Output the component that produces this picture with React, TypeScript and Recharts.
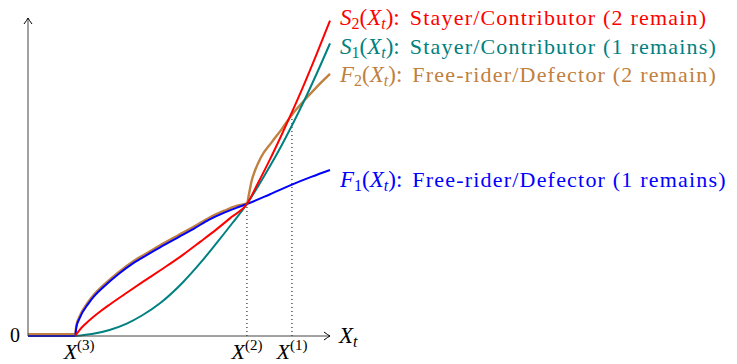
import React from "react";
import { LineChart, Line, XAxis, YAxis, ReferenceLine, ReferenceDot } from "recharts";

// threshold ticks on the X_t axis
const TICK_X = [15.6, 72.5, 87.4];
const TICK_SUP = ["(3)", "(2)", "(1)"];

// F1: free-rider, 1 remains
const F1_X = [0, 15.6, 16, 17, 20, 22, 25, 30, 35, 40, 45, 50, 55, 60, 65, 69, 72.5, 80, 87.4, 94, 100];
const F1_Y = [0, 0, 2.7, 5.4, 10.2, 12.6, 15.4, 19.5, 23.0, 25.8, 28.6, 31.2, 33.8, 36.6, 38.8, 40.3, 41.5, 44.5, 47.6, 50.1, 52.2];

// F2: free-rider, 2 remain
const F2_X = [0, 15.6, 16, 17, 20, 22, 25, 30, 35, 40, 45, 50, 55, 60, 65, 69, 72.5, 73.2, 74, 75, 77.2, 80.6, 83.9, 87.4, 91, 95.5, 100];
const F2_Y = [0.6, 0.6, 3.3, 6.0, 10.8, 13.2, 16.0, 20.1, 23.6, 26.4, 29.2, 31.8, 34.4, 37.2, 39.4, 40.9, 41.7, 44.8, 48.6, 51.6, 56.3, 60.8, 64.9, 69.6, 73.6, 78.2, 82.4];

// S1: stayer, 1 remains
const S1_X = [15.6, 21.6, 27, 32.7, 38, 43.7, 51.4, 57, 62.5, 67.5, 72.5, 76, 80, 84, 87.4, 91, 95.5, 100];
const S1_Y = [0, 0.7, 1.9, 3.9, 6.6, 10.3, 17.0, 22.9, 29.3, 35.3, 41.5, 46.8, 53.2, 60.0, 66.2, 73.1, 82.3, 92.0];

// S2: stayer, 2 remain
const S2_X = [15.6, 17, 19, 21.6, 24, 27.2, 32.7, 38, 43.7, 51.4, 57, 62.5, 67.5, 72.5, 76, 80, 84, 87.4, 91, 95.5, 100];
const S2_Y = [0, 1.8, 3.8, 6.0, 7.8, 10.0, 13.6, 17.0, 20.6, 25.6, 29.6, 33.6, 37.5, 41.5, 47.8, 55.3, 63.3, 70.4, 78.2, 88.5, 99.2];

const SERIF = "Liberation Serif";
const RED = "#ff0000";
const TEAL = "#008080";
const BROWN = "#bf8040";
const BLUE = "#0000ff";
const AXIS = "#444";

const pts = (xs: number[], ys: number[]) => xs.map((x, i) => ({ x, y: ys[i] }));

const SERIES = [
  { key: "F2", xs: F2_X, ys: F2_Y, color: BROWN, width: 2.4, letter: "F", sub: "2", text: "Free-rider/Defector (2 remain)", dy: 8 },
  { key: "F1", xs: F1_X, ys: F1_Y, color: BLUE, width: 2, letter: "F", sub: "1", text: "Free-rider/Defector (1 remains)", dy: 17 },
  { key: "S1", xs: S1_X, ys: S1_Y, color: TEAL, width: 2, letter: "S", sub: "1", text: "Stayer/Contributor (1 remains)", dy: 11 },
  { key: "S2", xs: S2_X, ys: S2_Y, color: RED, width: 2, letter: "S", sub: "2", text: "Stayer/Contributor (2 remain)", dy: 4 },
];

const serif = { fontFamily: SERIF };

function XTick(props: any) {
  const { x, y, payload } = props;
  const i = TICK_X.indexOf(payload.value);
  const shift = i === 0 ? 4 : 0;
  return (
    <text x={x + shift} y={y + 23} textAnchor="middle" style={serif} fontSize={22} fill="#000">
      <tspan style={serif} fontStyle="italic">X</tspan>
      <tspan style={serif} fontSize={15} dy={-9}>{TICK_SUP[i]}</tspan>
    </text>
  );
}

function YTick(props: any) {
  const { x, y } = props;
  return (
    <text x={x - 8} y={y + 6} textAnchor="end" style={serif} fontSize={20} fill="#000">
      0
    </text>
  );
}

export default function App() {
  return (
    <div style={{ position: "absolute", left: 0, top: 0, background: "#fff" }}>
      <LineChart width={737} height={364} margin={{ top: 18, right: 407, bottom: 0, left: 0 }}>
        <XAxis
          dataKey="x"
          type="number"
          domain={[0, 100]}
          ticks={TICK_X}
          tick={<XTick />}
          tickLine={false}
          tickSize={0}
          tickMargin={0}
          height={28}
          axisLine={{ stroke: AXIS, strokeWidth: 1 }}
          allowDuplicatedCategory={false}
        />
        <YAxis
          type="number"
          domain={[0, 100]}
          ticks={[0]}
          tick={<YTick />}
          tickLine={false}
          tickSize={0}
          tickMargin={0}
          width={28}
          axisLine={{ stroke: AXIS, strokeWidth: 1 }}
        />
        <ReferenceLine
          segment={[{ x: TICK_X[1], y: 0 }, { x: TICK_X[1], y: S2_Y[13] }]}
          stroke="#000"
          strokeDasharray="1 3"
          ifOverflow="visible"
        />
        <ReferenceLine
          segment={[{ x: TICK_X[2], y: 0 }, { x: TICK_X[2], y: F2_Y[23] }]}
          stroke="#000"
          strokeDasharray="1 3"
          ifOverflow="visible"
        />
        {SERIES.map((s) => (
          <Line
            key={s.key}
            data={pts(s.xs, s.ys)}
            dataKey="y"
            type="monotone"
            stroke={s.color}
            strokeWidth={s.width}
            dot={false}
            activeDot={false}
            isAnimationActive={false}
          />
        ))}
        {/* arrowheads and axis name */}
        <ReferenceDot
          x={100}
          y={0}
          ifOverflow="visible"
          shape={(p: any) => (
            <g>
              <path
                d={`M ${p.cx - 6} ${p.cy - 4} Q ${p.cx - 2} ${p.cy - 1} ${p.cx} ${p.cy} Q ${p.cx - 2} ${p.cy + 1} ${p.cx - 6} ${p.cy + 4}`}
                stroke="#000"
                fill="none"
                strokeWidth={1}
              />
              <text x={p.cx + 9} y={p.cy + 7} style={serif} fontSize={23} fill="#000">
                <tspan style={serif} fontStyle="italic">X</tspan>
                <tspan style={serif} fontStyle="italic" fontSize={16} dy={4}>t</tspan>
              </text>
            </g>
          )}
        />
        <ReferenceDot
          x={0}
          y={100}
          ifOverflow="visible"
          shape={(p: any) => (
            <path
              d={`M ${p.cx - 4} ${p.cy + 6} Q ${p.cx - 1} ${p.cy + 2} ${p.cx} ${p.cy} Q ${p.cx + 1} ${p.cy + 2} ${p.cx + 4} ${p.cy + 6}`}
              stroke="#000"
              fill="none"
              strokeWidth={1}
            />
          )}
        />
        {SERIES.map((s) => (
          <ReferenceDot
            key={"lbl-" + s.key}
            x={s.xs[s.xs.length - 1]}
            y={s.ys[s.ys.length - 1]}
            ifOverflow="visible"
            shape={(p: any) => (
              <text x={p.cx + 10} y={p.cy + s.dy} style={serif} fontSize={23} fill={s.color}>
                <tspan style={serif} fontStyle="italic">{s.letter}</tspan>
                <tspan style={serif} fontSize={16} dy={4}>{s.sub}</tspan>
                <tspan style={serif} dy={-4}>(</tspan>
                <tspan style={serif} fontStyle="italic">X</tspan>
                <tspan style={serif} fontStyle="italic" fontSize={16} dy={4}>t</tspan>
                <tspan style={serif} dy={-4}>):</tspan>
                <tspan style={{ ...serif, fontSize: 22, letterSpacing: "1.2px" }} dx={10}>{s.text}</tspan>
              </text>
            )}
          />
        ))}
      </LineChart>
    </div>
  );
}
